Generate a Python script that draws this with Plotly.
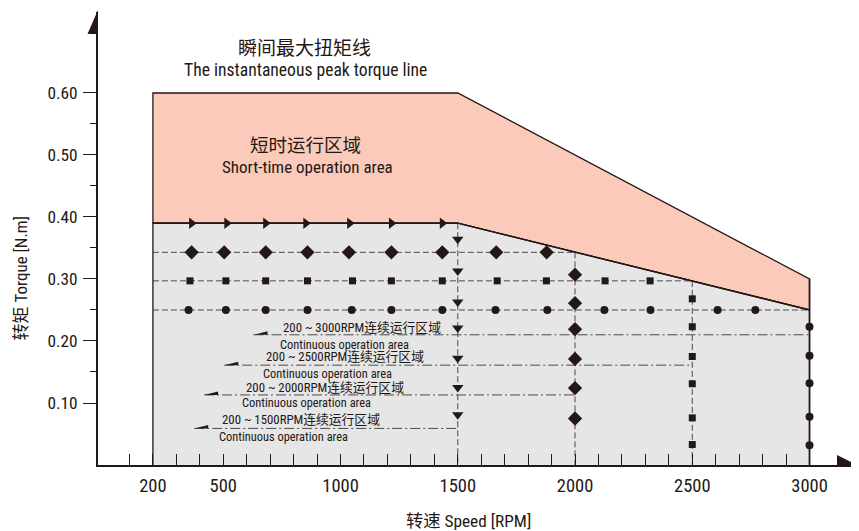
import plotly.graph_objects as go

# ---------------- data ----------------
speed_tick_vals = [200, 500, 1000, 1500, 2000, 2500, 3000]
speed_minor_ticks = [100, 200, 300, 400, 500, 600, 700, 800, 900, 1000, 1100, 1200, 1300, 1400, 1500,
                     1600, 1700, 1800, 1900, 2000, 2100, 2200, 2300, 2400, 2500, 2600, 2700, 2800, 2900, 3000]
torque_tick_vals = [0.10, 0.20, 0.30, 0.40, 0.50, 0.60]
torque_tick_text = ["0.10", "0.20", "0.30", "0.40", "0.50", "0.60"]
torque_minor_ticks = [0.15, 0.25, 0.35, 0.45, 0.55]

# instantaneous peak torque line (upper boundary of short-time area)
peak_speed = [200, 200, 1500, 3000, 3000]
peak_torque = [0.39, 0.60, 0.60, 0.30, 0.25]
# continuous torque line (upper boundary of continuous area)
cont_speed = [200, 1500, 3000]
cont_torque = [0.39, 0.39, 0.25]

# marker rows
arrow_row_speed = [365, 515, 681, 852, 1039, 1217, 1434]
arrow_row_torque = 0.39
diamond_row_speed = [365, 504, 681, 859, 1036, 1217, 1434, 1664, 1879]
diamond_row_torque = 0.343
square_row_speed = [358, 511, 681, 859, 1051, 1217, 1434, 1668, 1878, 2128, 2320]
square_row_torque = 0.297
circle_row_speed = [352, 511, 681, 859, 1048, 1217, 1434, 1661, 1882, 2125, 2322, 2608, 2769]
circle_row_torque = 0.25

# marker columns
col_speeds = [1500, 2000, 2500, 3000]
col_tops = [0.39, 0.343, 0.297, 0.30]
col1500_torque = [0.364, 0.313, 0.263, 0.221, 0.172, 0.125, 0.081]
col2000_torque = [0.307, 0.261, 0.219, 0.171, 0.124, 0.075]
col2500_torque = [0.268, 0.223, 0.175, 0.131, 0.076, 0.033]
col3000_torque = [0.223, 0.176, 0.132, 0.078, 0.032]

# continuous operation limits (dash-dot lines)
cont_limit_speed = [3000, 2500, 2000, 1500]
cont_limit_torque = [0.21, 0.161, 0.113, 0.059]
cont_limit_start = [629, 504, 418, 376]
cont_limit_labels = ["200 ~ 3000RPM连续运行区域", "200 ~ 2500RPM连续运行区域",
                     "200 ~ 2000RPM连续运行区域", "200 ~ 1500RPM连续运行区域"]
cont_sub_label = "Continuous operation area"

# ---------------- style ----------------
FONT = "Roboto Condensed, Roboto, Noto Sans CJK SC, sans-serif"
WEIGHT = 400
INK = "#231815"
DASH_COL = "#4a4a4a"
PINK = "#FBCABA"
GRAY = "#E6E6E6"

fig = go.Figure()

# short-time operation area (pink)
fig.add_trace(go.Scatter(
    x=peak_speed + cont_speed[::-1][1:] + [cont_speed[0]],
    y=peak_torque + cont_torque[::-1][1:] + [cont_torque[0]],
    fill="toself", fillcolor=PINK, mode="lines",
    line=dict(color=INK, width=1.3), hoverinfo="skip", showlegend=False))

# continuous area (gray)
fig.add_trace(go.Scatter(
    x=[cont_speed[0]] + cont_speed + [cont_speed[-1]],
    y=[0] + cont_torque + [0],
    fill="toself", fillcolor=GRAY, mode="lines",
    line=dict(color=INK, width=1.3), hoverinfo="skip", showlegend=False))

# right edge at 3000 rpm (solid)
fig.add_trace(go.Scatter(x=[col_speeds[3], col_speeds[3]], y=[col_tops[3], 0], mode="lines",
                         line=dict(color=INK, width=1.6), hoverinfo="skip", showlegend=False))

# horizontal dashed rows
for lvl, end in [(diamond_row_torque, col_speeds[1]), (square_row_torque, col_speeds[2]),
                 (circle_row_torque, col_speeds[3])]:
    fig.add_trace(go.Scatter(x=[cont_speed[0], end], y=[lvl, lvl], mode="lines",
                             line=dict(color=DASH_COL, width=1, dash="6px,3px"),
                             hoverinfo="skip", showlegend=False))

# vertical dashed columns
for sp, top in zip(col_speeds[:3], col_tops[:3]):
    fig.add_trace(go.Scatter(x=[sp, sp], y=[top, 0], mode="lines",
                             line=dict(color=DASH_COL, width=1, dash="6px,3px"),
                             hoverinfo="skip", showlegend=False))

# continuous operation dash-dot lines
for sp, lvl, st in zip(cont_limit_speed, cont_limit_torque, cont_limit_start):
    fig.add_trace(go.Scatter(x=[st, sp], y=[lvl, lvl], mode="lines",
                             line=dict(color=DASH_COL, width=1, dash="10px,3px,2px,3px"),
                             hoverinfo="skip", showlegend=False))

# continuous line (solid) on top
fig.add_trace(go.Scatter(x=cont_speed, y=cont_torque, mode="lines",
                         line=dict(color=INK, width=1.4), hoverinfo="skip", showlegend=False))

# markers
def mk(x, y, symbol, size):
    fig.add_trace(go.Scatter(x=x, y=y, mode="markers", cliponaxis=False,
                             marker=dict(symbol=symbol, size=size, color=INK, line=dict(width=0)),
                             hoverinfo="skip", showlegend=False))

mk(arrow_row_speed, [arrow_row_torque] * len(arrow_row_speed), "triangle-right", 10)
mk(diamond_row_speed, [diamond_row_torque] * len(diamond_row_speed), "diamond", 11)
mk(square_row_speed, [square_row_torque] * len(square_row_speed), "square", 7)
mk(circle_row_speed, [circle_row_torque] * len(circle_row_speed), "circle", 8)
mk([col_speeds[0]] * len(col1500_torque), col1500_torque, "triangle-down", 10)
mk([col_speeds[1]] * len(col2000_torque), col2000_torque, "diamond", 11)
mk([col_speeds[2]] * len(col2500_torque), col2500_torque, "square", 7)
mk([col_speeds[3]] * len(col3000_torque), col3000_torque, "circle", 8)

shapes = []
# small half-arrow heads at the left end of each dash-dot line
for st, lvl in zip(cont_limit_start, cont_limit_torque):
    shapes.append(dict(type="path", xref="x", yref="y", xsizemode="pixel", ysizemode="pixel",
                       xanchor=st, yanchor=lvl, path="M0,0 L14,0 L14,3.5 Z",
                       fillcolor=INK, line=dict(width=0)))
# axis arrow heads
shapes.append(dict(type="path", xref="paper", yref="paper", xsizemode="pixel", ysizemode="pixel",
                   xanchor=0, yanchor=1, path="M0,2 L-10.5,-22 L0,-22 Z",
                   fillcolor=INK, line=dict(width=0)))
shapes.append(dict(type="path", xref="paper", yref="paper", xsizemode="pixel", ysizemode="pixel",
                   xanchor=1, yanchor=0, path="M0,-1 L-22,10 L-22,-1 Z",
                   fillcolor=INK, line=dict(width=0)))

annotations = []
def txt(x, y, s, size, xref="x", yref="y", **kw):
    annotations.append(dict(x=x, y=y, xref=xref, yref=yref, text=s, showarrow=False,
                            font=dict(family=FONT, size=size, color=INK, weight=WEIGHT),
                            xanchor="center", yanchor="middle", **kw))

txt(847, 0.671, "瞬间最大扭矩线", 19)
txt(852, 0.637, "The instantaneous peak torque line", 17.6)
txt(849, 0.514, "短时运行区域", 18.5)
txt(860, 0.481, "Short-time operation area", 17)

label_pos = [(1093, 0.2215, 1017, 0.195), (1021, 0.1747, 944, 0.148),
             (933, 0.1247, 856, 0.1005), (832, 0.0726, 757, 0.0456)]
for lab, (lx, ly, sx, sy) in zip(cont_limit_labels, label_pos):
    txt(lx, ly, lab, 12.8)
    txt(sx, sy, cont_sub_label, 12.4)

# axis titles
txt(1545, 0, "转速 Speed [RPM]", 17.3, yref="paper", yshift=-56)
txt(0, 0.3008, "转矩 Torque [N.m]", 17, xref="paper", xshift=-77, textangle=-90)

# page has an 8px body margin: figure is sized/offset to compensate
fig.update_layout(
    width=851, height=523,
    margin=dict(l=90, r=0, t=4, b=66),
    plot_bgcolor="white", paper_bgcolor="white",
    shapes=shapes, annotations=annotations,
    xaxis=dict(range=[-34.2, 3211], showgrid=False, zeroline=False,
               showline=True, linecolor=INK, linewidth=2,
               tickmode="array", tickvals=speed_minor_ticks,
               ticktext=[str(v) if v in speed_tick_vals else "" for v in speed_minor_ticks],
               ticks="inside", ticklen=11, tickwidth=1, tickcolor=INK,
               tickfont=dict(family=FONT, size=18.5, color=INK, weight=WEIGHT), ticklabelstandoff=3),
    yaxis=dict(range=[0, 0.7306], showgrid=False, zeroline=False,
               showline=True, linecolor=INK, linewidth=2,
               tickmode="array", tickvals=torque_tick_vals, ticktext=torque_tick_text,
               ticks="outside", ticklen=13, tickwidth=1.3, tickcolor=INK,
               minor=dict(tickmode="array", tickvals=torque_minor_ticks, ticks="outside",
                          ticklen=6, tickwidth=1.3, tickcolor=INK),
               tickfont=dict(family=FONT, size=17.3, color=INK, weight=WEIGHT), ticklabelstandoff=2),
)

fig.write_html("out.html")
